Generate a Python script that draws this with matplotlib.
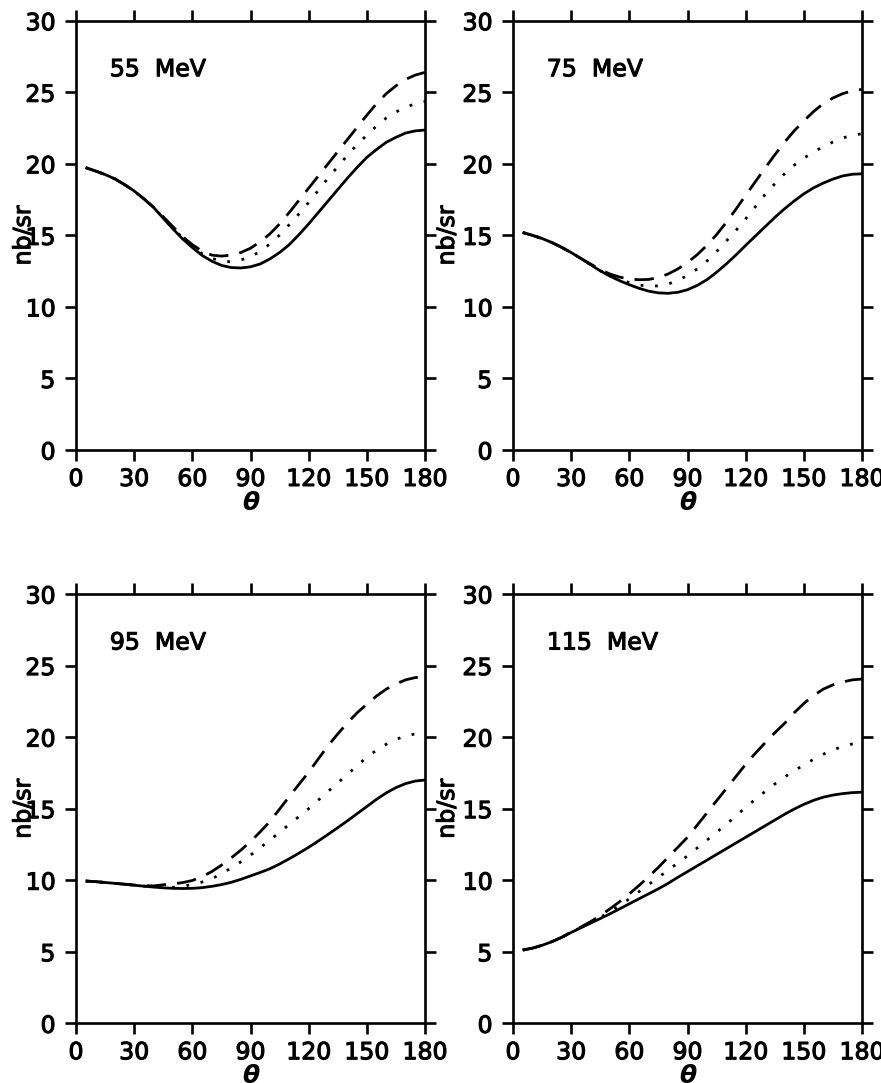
import matplotlib
matplotlib.use("Agg")
import matplotlib.pyplot as plt
import matplotlib.patheffects as pe

plt.rcParams['font.family'] = ['DejaVu Sans']

# Scattering angle grid (degrees)
theta = [5, 10, 15, 20, 25, 30, 35, 40, 45, 50, 55, 60, 65, 70, 75, 80, 85, 90,
         95, 100, 105, 110, 115, 120, 125, 130, 135, 140, 145, 150, 155, 160, 165, 170, 175, 180]

energies = ["55", "75", "95", "115"]

# Cross sections (nb/sr): solid, dotted and dashed curves for each photon energy
solid_55 = [19.73, 19.5, 19.25, 18.95, 18.55, 18.1, 17.55, 16.95, 16.2, 15.45, 14.75, 14.15,
            13.6, 13.2, 12.9, 12.75, 12.72, 12.8, 13.0, 13.35, 13.8, 14.35, 15.05, 15.8,
            16.6, 17.4, 18.2, 19.0, 19.75, 20.45, 21.0, 21.5, 21.85, 22.15, 22.3, 22.36]
dotted_55 = [19.73, 19.5, 19.25, 18.95, 18.55, 18.1, 17.55, 16.95, 16.22, 15.5, 14.82, 14.22,
             13.72, 13.4, 13.2, 13.15, 13.28, 13.5, 13.88, 14.4, 15.02, 15.75, 16.5, 17.3,
             18.15, 19.0, 19.8, 20.6, 21.35, 22.0, 22.65, 23.2, 23.62, 23.95, 24.2, 24.35]
dashed_55 = [19.73, 19.5, 19.25, 18.95, 18.55, 18.1, 17.56, 16.97, 16.3, 15.6, 14.9, 14.35,
             13.9, 13.62, 13.55, 13.62, 13.8, 14.1, 14.55, 15.1, 15.8, 16.6, 17.45, 18.3,
             19.15, 20.0, 20.85, 21.7, 22.55, 23.4, 24.2, 24.9, 25.45, 25.9, 26.2, 26.39]

solid_75 = [15.2, 15.0, 14.78, 14.5, 14.17, 13.8, 13.38, 12.95, 12.52, 12.15, 11.83, 11.55,
            11.3, 11.1, 10.98, 10.95, 11.02, 11.2, 11.5, 11.9, 12.42, 13.0, 13.63, 14.3,
            14.95, 15.6, 16.25, 16.85, 17.4, 17.9, 18.32, 18.65, 18.93, 19.15, 19.27, 19.3]
dotted_75 = [15.2, 15.0, 14.78, 14.5, 14.17, 13.8, 13.38, 12.96, 12.53, 12.2, 11.92, 11.7,
             11.53, 11.45, 11.47, 11.6, 11.85, 12.2, 12.65, 13.2, 13.87, 14.6, 15.35, 16.15,
             17.0, 17.85, 18.6, 19.3, 19.9, 20.4, 20.82, 21.2, 21.52, 21.8, 22.0, 22.1]
dashed_75 = [15.2, 15.0, 14.78, 14.5, 14.17, 13.8, 13.39, 13.0, 12.6, 12.3, 12.08, 11.95,
             11.9, 11.92, 12.05, 12.3, 12.65, 13.1, 13.65, 14.3, 15.05, 15.9, 16.83, 17.8,
             18.75, 19.7, 20.62, 21.5, 22.3, 23.0, 23.65, 24.2, 24.6, 24.9, 25.1, 25.2]

solid_95 = [9.94, 9.9, 9.84, 9.78, 9.72, 9.65, 9.58, 9.52, 9.47, 9.43, 9.42, 9.43,
            9.48, 9.57, 9.69, 9.85, 10.06, 10.3, 10.54, 10.8, 11.13, 11.5, 11.89, 12.3,
            12.74, 13.2, 13.67, 14.15, 14.65, 15.15, 15.65, 16.1, 16.47, 16.75, 16.93, 17.0]
dotted_95 = [9.94, 9.9, 9.84, 9.78, 9.72, 9.65, 9.59, 9.55, 9.52, 9.5, 9.57, 9.7,
             9.87, 10.1, 10.45, 10.85, 11.28, 11.75, 12.27, 12.8, 13.35, 13.9, 14.45, 15.0,
             15.6, 16.2, 16.8, 17.4, 18.0, 18.6, 19.08, 19.5, 19.83, 20.1, 20.22, 20.26]
dashed_95 = [9.94, 9.9, 9.84, 9.78, 9.72, 9.66, 9.62, 9.6, 9.68, 9.75, 9.83, 9.98,
             10.25, 10.6, 11.05, 11.55, 12.1, 12.7, 13.38, 14.1, 14.97, 15.85, 16.7, 17.55,
             18.48, 19.4, 20.22, 21.0, 21.7, 22.3, 22.87, 23.35, 23.72, 24.0, 24.16, 24.22]

solid_115 = [5.12, 5.25, 5.45, 5.7, 6.0, 6.35, 6.67, 7.0, 7.32, 7.65, 8.0, 8.35,
             8.7, 9.05, 9.4, 9.78, 10.2, 10.6, 11.0, 11.4, 11.8, 12.2, 12.6, 13.0,
             13.4, 13.8, 14.2, 14.6, 14.97, 15.3, 15.58, 15.8, 15.95, 16.05, 16.12, 16.15]
dotted_115 = [5.12, 5.25, 5.45, 5.7, 6.0, 6.36, 6.7, 7.05, 7.4, 7.8, 8.23, 8.7,
              9.2, 9.7, 10.2, 10.7, 11.2, 11.7, 12.25, 12.8, 13.35, 13.9, 14.5, 15.1,
              15.65, 16.2, 16.72, 17.2, 17.65, 18.05, 18.45, 18.8, 19.1, 19.35, 19.52, 19.6]
dashed_115 = [5.12, 5.25, 5.45, 5.7, 6.0, 6.38, 6.73, 7.1, 7.52, 8.0, 8.5, 9.05,
              9.63, 10.25, 10.9, 11.6, 12.3, 13.0, 13.85, 14.7, 15.55, 16.4, 17.25, 18.1,
              18.87, 19.6, 20.3, 20.95, 21.7, 22.35, 22.9, 23.35, 23.65, 23.85, 24.0, 24.06]

solid = [solid_55, solid_75, solid_95, solid_115]
dotted = [dotted_55, dotted_75, dotted_95, dotted_115]
dashed = [dashed_55, dashed_75, dashed_95, dashed_115]

xticks = [0, 30, 60, 90, 120, 150, 180]
yticks = [0, 5, 10, 15, 20, 25, 30]

W, H = 881, 1083
fig = plt.figure(figsize=(W / 100, H / 100), dpi=100)

lefts = [76, 513]
tops = [20.7, 594.0]
aw, ah = 349, 429.3
ylabel_x = [-0.117, -0.155]

FS = 17
LW = 2.0
heavy = [pe.withStroke(linewidth=0.8, foreground='black')]

for i in range(4):
    r, c = divmod(i, 2)
    ax = fig.add_axes([lefts[c] / W, (H - tops[r] - ah) / H, aw / W, ah / H])
    ax.plot(theta, solid[i], color='black', lw=LW, solid_capstyle='butt')
    ax.plot(theta, dotted[i], color='black', lw=LW, linestyle=(0, (1.0, 4.2)))
    ax.plot(theta, dashed[i], color='black', lw=LW, linestyle=(0, (7.0, 4.0)))

    ax.set_xlim(0, 180)
    ax.set_ylim(0, 30)
    ax.set_xticks(xticks)
    ax.set_yticks(yticks)
    ax.set_xticklabels([str(v) for v in xticks])
    ax.set_yticklabels([str(v) for v in yticks])
    for sp in ax.spines.values():
        sp.set_linewidth(1.9)
    ax.tick_params(axis='both', which='major', direction='out', length=8.2, width=1.9,
                   top=True, right=True, labelsize=FS, color='black')
    ax.tick_params(axis='y', pad=6.5)
    ax.tick_params(axis='x', pad=4)
    for lbl in ax.get_xticklabels() + ax.get_yticklabels():
        lbl.set_path_effects(heavy)

    yl = ax.set_ylabel("nb/sr", fontsize=FS)
    yl.set_path_effects(heavy)
    ax.yaxis.set_label_coords(ylabel_x[c], 0.5)
    ax.set_xlabel("θ", fontsize=FS + 1, fontstyle='italic', fontweight='bold', labelpad=0)

    ax.text(0.097, 0.887, energies[i] + "  MeV", transform=ax.transAxes,
            fontsize=FS, ha='left', va='center', path_effects=heavy)

fig.savefig("out.png", dpi=100)
